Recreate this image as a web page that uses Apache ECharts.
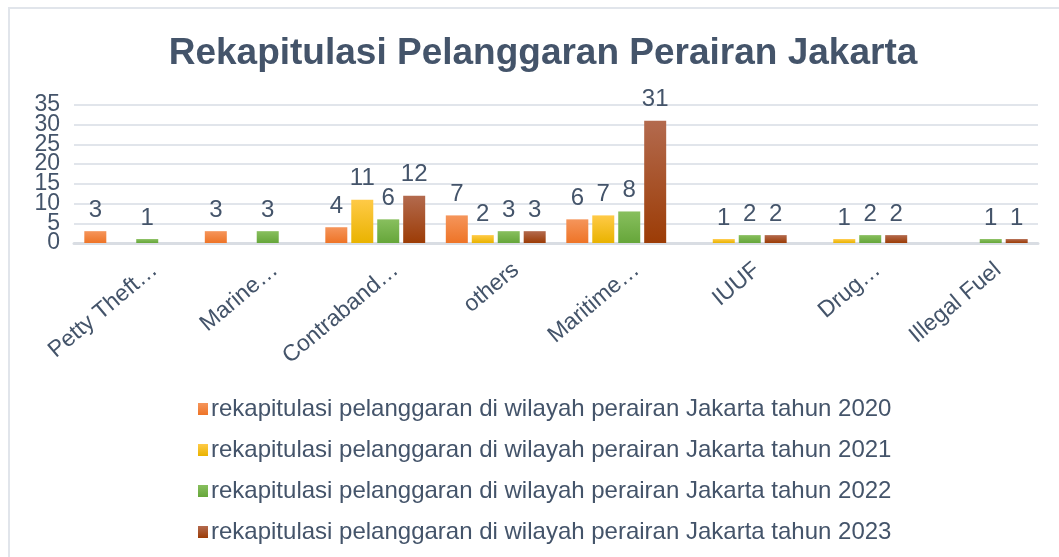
<!DOCTYPE html>
<html>
<head>
<meta charset="utf-8">
<script src="https://cdn.jsdelivr.net/npm/echarts@6/dist/echarts.min.js"></script>
<style>
  html, body { margin: 0; padding: 0; background: #fff; }
  #main { width: 1059px; height: 557px; }
</style>
</head>
<body>
<div id="main"></div>
<script>
const categories = ['Petty Theft…', 'Marine…', 'Contraband…', 'others', 'Maritime…', 'IUUF', 'Drug…', 'Illegal Fuel'];
const seriesNames = [
    'rekapitulasi pelanggaran di wilayah perairan Jakarta tahun 2020',
    'rekapitulasi pelanggaran di wilayah perairan Jakarta tahun 2021',
    'rekapitulasi pelanggaran di wilayah perairan Jakarta tahun 2022',
    'rekapitulasi pelanggaran di wilayah perairan Jakarta tahun 2023'
];
const data2020 = [3, 3, 4, 7, 6, 0, 0, 0];
const data2021 = [0, 0, 11, 2, 7, 1, 1, 0];
const data2022 = [1, 3, 6, 3, 8, 2, 2, 1];
const data2023 = [0, 0, 12, 3, 31, 2, 2, 1];
const yTicks = [0, 5, 10, 15, 20, 25, 30, 35];

const textColor = '#44546A';
const fontFamily = '"Liberation Sans", Arial, sans-serif';
// top / bottom colour for each year
const colors = [
    ['#F5955B', '#EE7427'],
    ['#FFCA47', '#E9B300'],
    ['#88BF5E', '#66A63A'],
    ['#B36A4E', '#9C3C06']
];

const chart = echarts.init(document.getElementById('main'));

const grad = (c) => new echarts.graphic.LinearGradient(0, 0, 0, 1, [
    {offset: 0, color: c[0]},
    {offset: 1, color: c[1]}
]);

const makeSeries = (name, values, i) => ({
    name: name,
    type: 'bar',
    data: values,
    barWidth: 22,
    barGap: '18%',
    itemStyle: {color: grad(colors[i])},
    label: {
        show: true,
        position: 'top',
        distance: 9,
        color: textColor,
        fontSize: 24,
        fontFamily: fontFamily,
        formatter: (p) => p.value === 0 ? '' : p.value
    }
});

// the tick labels sit closer than their font height, so they are split
// over two identical axes to stop ECharts from dropping some of them
const makeYAxis = (odd) => ({
    type: 'value',
    position: 'left',
    min: yTicks[0],
    max: yTicks[yTicks.length - 1],
    interval: 5,
    axisLine: {show: false},
    axisTick: {show: false},
    splitLine: {show: !odd, lineStyle: {color: '#E1E5EB', width: 2}},
    axisLabel: {
        margin: 14,
        showMinLabel: true,
        showMaxLabel: true,
        color: textColor,
        fontSize: 23,
        fontFamily: fontFamily,
        formatter: (v) => ((v / 5) % 2 === 1) === odd ? String(v) : ''
    }
});

const option = {
    backgroundColor: '#fff',
    animation: false,
    graphic: [{
        type: 'rect',
        shape: {x: 9, y: 8, width: 1200, height: 700},
        style: {fill: 'none', stroke: '#E1E5EB', lineWidth: 2},
        silent: true
    }],
    title: {
        text: 'Rekapitulasi Pelanggaran Perairan Jakarta',
        left: 538,
        top: 30,
        textAlign: 'center',
        textStyle: {
            color: textColor,
            fontSize: 37,
            fontWeight: 'bold',
            fontFamily: fontFamily
        }
    },
    legend: {
        orient: 'vertical',
        left: 193,
        top: 392,
        itemWidth: 10,
        itemHeight: 12,
        itemGap: 17,
        icon: 'rect',
        textStyle: {
            color: textColor,
            fontSize: 24,
            lineHeight: 24,
            fontFamily: fontFamily,
            padding: [0, 0, 0, -2]
        },
        data: seriesNames
    },
    grid: {
        left: 74,
        right: 21,
        top: 105,
        bottom: 314,
        containLabel: false
    },
    xAxis: {
        type: 'category',
        data: categories,
        axisLine: {lineStyle: {color: '#D9DDE3', width: 3}},
        axisTick: {show: false},
        axisLabel: {
            rotate: 40,
            interval: 0,
            margin: 0,
            align: 'right',
            verticalAlign: 'top',
            color: textColor,
            fontSize: 23,
            fontFamily: fontFamily,
            padding: [20, 0, 0, 0]
        }
    },
    yAxis: [makeYAxis(false), makeYAxis(true)],
    series: [
        makeSeries(seriesNames[0], data2020, 0),
        makeSeries(seriesNames[1], data2021, 1),
        makeSeries(seriesNames[2], data2022, 2),
        makeSeries(seriesNames[3], data2023, 3)
    ]
};

chart.setOption(option);
</script>
</body>
</html>
